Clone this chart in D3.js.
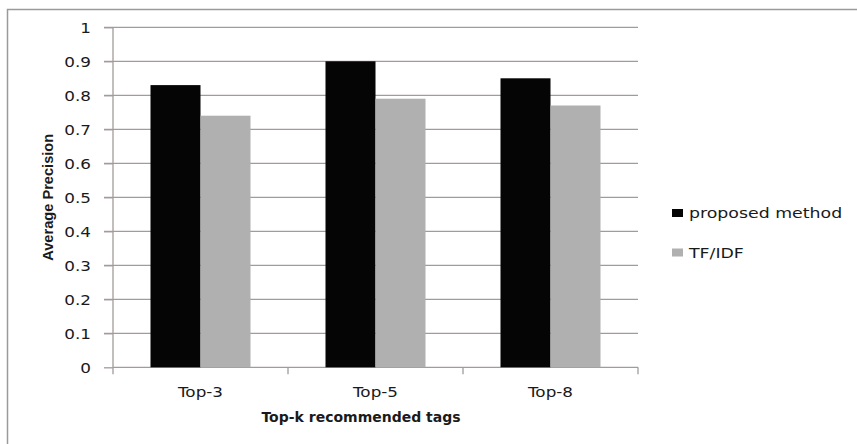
<!DOCTYPE html>
<html>
<head>
<meta charset="utf-8">
<script src="https://cdn.jsdelivr.net/npm/d3@7"></script>
<style>
  html, body { margin: 0; padding: 0; background: #fff; }
  svg { display: block; }
  text { font-family: "DejaVu Sans", Verdana, sans-serif; fill: #1a1a1a; }
</style>
</head>
<body>
<svg id="chart" width="857" height="444"></svg>
<script>
// Categories, series and axis ticks
const categories = ["Top-3", "Top-5", "Top-8"];
const seriesNames = ["proposed method", "TF/IDF"];
const proposedMethod = [0.83, 0.90, 0.85];
const tfIdf = [0.74, 0.79, 0.77];
const yTicks = [0, 0.1, 0.2, 0.3, 0.4, 0.5, 0.6, 0.7, 0.8, 0.9, 1];
const seriesColors = ["#050505", "#b0b0b0"];

const series = [proposedMethod, tfIdf];
const svg = d3.select("#chart");

const plot = { left: 113, right: 638, top: 27.3, bottom: 367.3 };
const gridColor = "#a39b9b";
const sx = 1.2; // horizontal stretch of the lettering

// outer frame of the chart area
svg.append("rect")
  .attr("x", 7.5).attr("y", 9.5)
  .attr("width", 900).attr("height", 500)
  .attr("fill", "none").attr("stroke", "#9a9a9a").attr("stroke-width", 1.5);

const x = d3.scaleBand().domain(categories).range([plot.left, plot.right]).paddingInner(0).paddingOuter(0);
const y = d3.scaleLinear().domain([0, 1]).range([plot.bottom, plot.top]);
const xInner = d3.scaleBand().domain(d3.range(series.length)).range([0, x.bandwidth()]).paddingInner(0).paddingOuter(0.75);

// helper for stretched text
function label(g, str, tx, ty, anchor, opts = {}) {
  const t = g.append("text")
    .attr("transform", `translate(${tx},${ty}) scale(${opts.sx || sx},1)`)
    .attr("text-anchor", anchor)
    .style("font-size", (opts.size || 14) + "px")
    .style("font-weight", opts.weight || "normal")
    .text(str);
  return t;
}

// horizontal gridlines
svg.append("g").selectAll("line")
  .data(yTicks.filter(d => d > 0))
  .join("line")
  .attr("x1", plot.left - 9).attr("x2", plot.right)
  .attr("y1", d => y(d)).attr("y2", d => y(d))
  .attr("stroke", gridColor).attr("stroke-width", 1.3);

// y axis
const yAxis = svg.append("g").attr("transform", `translate(${plot.left},0)`)
  .call(d3.axisLeft(y).tickValues(yTicks).tickSize(9).tickFormat(d3.format("~g")));
yAxis.select(".domain").attr("stroke", gridColor).attr("stroke-width", 1.3)
  .attr("d", `M0,${plot.top}V${plot.bottom + 7}`);
yAxis.selectAll(".tick line").attr("stroke", gridColor).attr("stroke-width", 1.3);
yAxis.selectAll(".tick text").remove();
yAxis.selectAll(".tick").each(function(d) {
  label(d3.select(this), d3.format("~g")(d), -22, 5, "end");
});

// x axis
const xAxis = svg.append("g").attr("transform", `translate(0,${plot.bottom})`)
  .call(d3.axisBottom(x).tickSize(0).tickFormat(""));
xAxis.select(".domain").attr("stroke", gridColor).attr("stroke-width", 1.3)
  .attr("d", `M${plot.left},0H${plot.right}`);
xAxis.selectAll(".tick").remove();
xAxis.selectAll("line.sep")
  .data(categories.map(c => x(c) + x.bandwidth()))
  .join("line").attr("class", "sep")
  .attr("x1", d => d).attr("x2", d => d)
  .attr("y1", 0).attr("y2", 7)
  .attr("stroke", gridColor).attr("stroke-width", 1.3);
categories.forEach(c => {
  label(svg, c, x(c) + x.bandwidth() / 2, 396.5, "middle");
});

// bars
const groups = svg.append("g").selectAll("g")
  .data(categories)
  .join("g")
  .attr("transform", c => `translate(${x(c)},0)`);
groups.selectAll("rect")
  .data((c, i) => series.map((s, k) => ({ k, v: s[i] })))
  .join("rect")
  .attr("x", d => xInner(d.k))
  .attr("width", xInner.bandwidth())
  .attr("y", d => y(d.v))
  .attr("height", d => y(0) - y(d.v))
  .attr("fill", d => seriesColors[d.k]);

// axis titles
label(svg, "Top-k recommended tags", 361, 421.5, "middle", { weight: "bold", size: 14, sx: 1.0 });
svg.append("text")
  .attr("transform", `translate(53,${(plot.top + plot.bottom) / 2}) rotate(-90)`)
  .attr("text-anchor", "middle")
  .attr("textLength", 127).attr("lengthAdjust", "spacingAndGlyphs")
  .style("font-family", "'Liberation Sans Narrow', 'Liberation Sans', Arial, sans-serif")
  .style("font-weight", "bold")
  .style("font-size", "14.5px")
  .text("Average Precision");

// legend
const legend = svg.append("g");
const legendRows = [213, 252.5];
seriesNames.forEach((name, k) => {
  legend.append("rect")
    .attr("x", 672).attr("y", legendRows[k] - 4)
    .attr("width", 11).attr("height", 8)
    .attr("fill", seriesColors[k]);
  label(legend, name, 689, legendRows[k] + 5, "start", { sx: 1.24 });
});
</script>
</body>
</html>
